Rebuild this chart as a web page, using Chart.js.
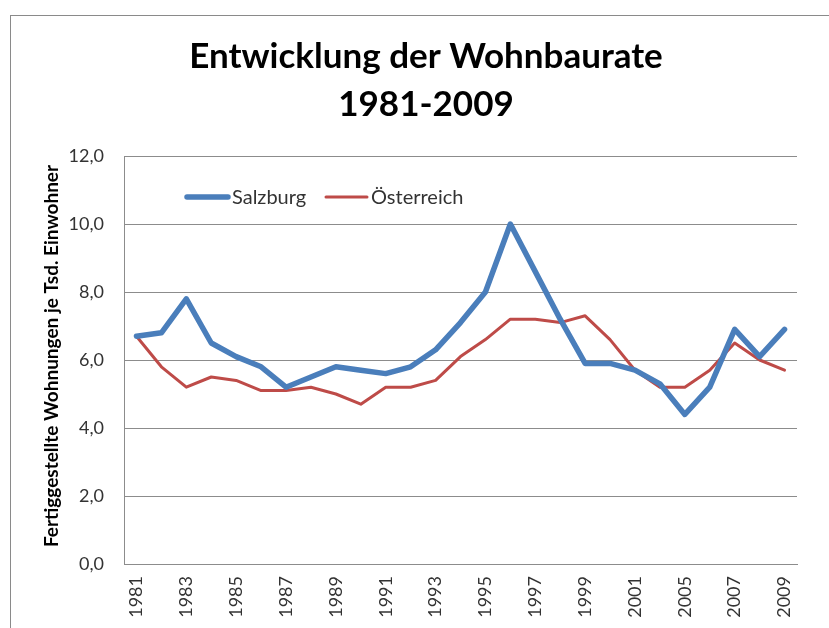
<!DOCTYPE html>
<html>
<head>
<meta charset="utf-8">
<title>Entwicklung der Wohnbaurate 1981-2009</title>
<script src="https://cdn.jsdelivr.net/npm/chart.js@4/dist/chart.umd.min.js"></script>
<style>
  html, body { margin: 0; padding: 0; background: #fff; }
  canvas { display: block; }
</style>
</head>
<body>
<canvas id="chart" width="829" height="628"></canvas>
<script>
// years on the axis (2002 and 2004 are not in the source table)
const years = ['1981', '1982', '1983', '1984', '1985', '1986', '1987', '1988', '1989', '1990',
    '1991', '1992', '1993', '1994', '1995', '1996', '1997', '1998', '1999', '2000',
    '2001', '2003', '2005', '2006', '2007', '2008', '2009'];

// completed dwellings per 1000 inhabitants
const salzburg = [6.7, 6.8, 7.8, 6.5, 6.1, 5.8, 5.2, 5.5, 5.8, 5.7,
    5.6, 5.8, 6.3, 7.1, 8.0, 10.0, 8.6, 7.2, 5.9, 5.9,
    5.7, 5.3, 4.4, 5.2, 6.9, 6.1, 6.9];
const oesterreich = [6.7, 5.8, 5.2, 5.5, 5.4, 5.1, 5.1, 5.2, 5.0, 4.7,
    5.2, 5.2, 5.4, 6.1, 6.6, 7.2, 7.2, 7.1, 7.3, 6.6,
    5.7, 5.2, 5.2, 5.7, 6.5, 6.0, 5.7];

const yTicks = [0, 2, 4, 6, 8, 10, 12];
const titleLines = ['Entwicklung der Wohnbaurate', '1981-2009'];
const yTitle = 'Fertiggestellte Wohnungen je Tsd. Einwohner';

const FONT = 'Lato, "Open Sans", "DejaVu Sans", sans-serif';
const GRID = '#8c8c8c';

// frame, title, axis title and the legend sitting inside the plot
const decorations = {
    id: 'decorations',
    beforeDraw(chart) {
        const ctx = chart.ctx;
        ctx.save();
        ctx.fillStyle = '#fff';
        ctx.fillRect(0, 0, chart.width, chart.height);
        ctx.strokeStyle = '#8a8a8a';
        ctx.lineWidth = 1;
        ctx.strokeRect(10.5, 15.5, 1000, 1000);
        ctx.restore();
    },
    afterDraw(chart) {
        const ctx = chart.ctx;
        ctx.save();

        // title
        ctx.fillStyle = '#000';
        ctx.textAlign = 'center';
        ctx.textBaseline = 'alphabetic';
        ctx.font = 'bold 35px ' + FONT;
        ctx.fillText(titleLines[0], 426, 68);
        ctx.fillText(titleLines[1], 426, 116);

        // y axis title
        ctx.save();
        ctx.translate(52, 356);
        ctx.rotate(-Math.PI / 2);
        ctx.font = 'bold 19px ' + FONT;
        ctx.textBaseline = 'middle';
        ctx.fillText(yTitle, 0, 0);
        ctx.restore();

        // legend
        const legendX = [187, 326];
        const legendY = 197;
        ctx.font = '20px ' + FONT;
        ctx.textAlign = 'left';
        ctx.textBaseline = 'middle';
        chart.data.datasets.forEach((ds, i) => {
            const x = legendX[i];
            ctx.strokeStyle = ds.borderColor;
            ctx.lineWidth = ds.borderWidth;
            ctx.lineCap = 'round';
            ctx.beginPath();
            ctx.moveTo(x, legendY);
            ctx.lineTo(x + 41, legendY);
            ctx.stroke();
            ctx.fillStyle = '#333';
            ctx.fillText(ds.label, x + 45, legendY + 1);
        });
        ctx.restore();
    }
};

const ctx = document.getElementById('chart').getContext('2d');
const chart = new Chart(ctx, {
    type: 'line',
    data: {
        labels: years,
        datasets: [
            {
                label: 'Salzburg',
                data: salzburg,
                borderColor: '#4A7EBB',
                borderWidth: 5.5,
                borderCapStyle: 'round',
                borderJoinStyle: 'round',
                pointRadius: 0,
                tension: 0,
                fill: false
            },
            {
                label: 'Österreich',
                data: oesterreich,
                borderColor: '#BE4B48',
                borderWidth: 3,
                borderCapStyle: 'round',
                borderJoinStyle: 'round',
                pointRadius: 0,
                tension: 0,
                fill: false
            }
        ]
    },
    options: {
        responsive: false,
        animation: false,
        devicePixelRatio: 1,
        layout: {
            padding: { top: 156, left: 0, right: 32, bottom: 0 }
        },
        plugins: {
            legend: { display: false },
            title: { display: false },
            tooltip: { enabled: false }
        },
        scales: {
            x: {
                offset: true,
                grid: { display: false, drawTicks: false },
                border: { display: true, color: GRID, width: 1 },
                ticks: {
                    autoSkip: false,
                    minRotation: 90,
                    maxRotation: 90,
                    padding: 12,
                    color: '#333',
                    font: { family: FONT, size: 18 },
                    callback: function(value, index) {
                        return index % 2 === 0 ? years[index] : '';
                    }
                },
                afterFit: function(scale) { scale.height = 64; }
            },
            y: {
                min: 0,
                max: 12,
                afterBuildTicks: function(scale) {
                    scale.ticks = yTicks.map(v => ({ value: v }));
                },
                grid: { color: GRID, lineWidth: 1, drawTicks: false },
                border: { display: true, color: GRID, width: 1 },
                ticks: {
                    padding: 20,
                    color: '#333',
                    font: { family: FONT, size: 18 },
                    callback: function(value) {
                        return value.toFixed(1).replace('.', ',');
                    }
                },
                afterFit: function(scale) { scale.width = 124; }
            }
        }
    },
    plugins: [decorations]
});
</script>
</body>
</html>
